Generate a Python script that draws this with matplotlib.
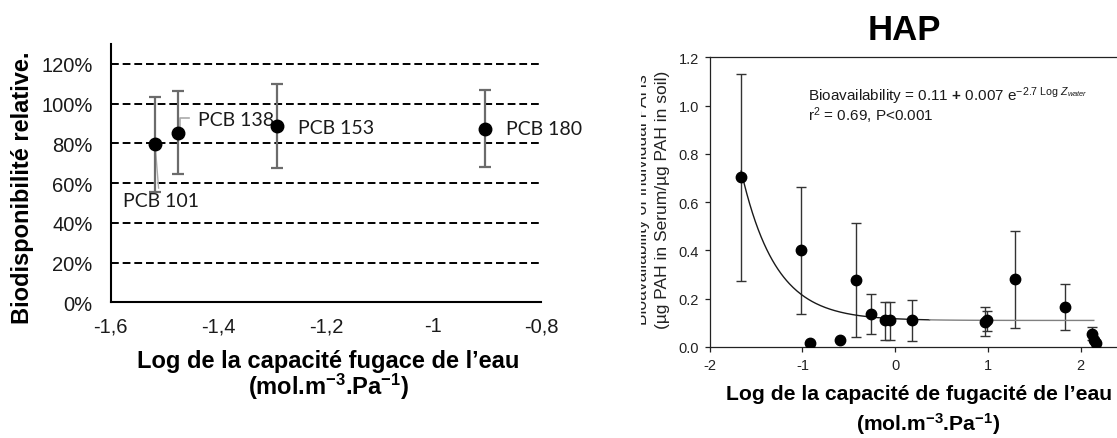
# Bioavailability vs log water fugacity capacity: PCB (left) and HAP (right)
import numpy as np
import matplotlib
matplotlib.use('Agg')
import matplotlib.pyplot as plt
from matplotlib.patches import Rectangle
from matplotlib.ticker import FuncFormatter

plt.rcParams['font.family'] = ['Liberation Sans', 'DejaVu Sans']
plt.rcParams['axes.unicode_minus'] = False
plt.rcParams['mathtext.fontset'] = 'custom'
plt.rcParams['mathtext.rm'] = 'Liberation Sans'
plt.rcParams['mathtext.it'] = 'Liberation Sans:italic'
plt.rcParams['mathtext.bf'] = 'Liberation Sans:bold'

# ---- PCB data (left panel), values in %
pcb_names = ['PCB 101', 'PCB 138', 'PCB 153', 'PCB 180']
pcb_x = [-1.517, -1.475, -1.291, -0.905]
pcb_y = [79.5, 85.4, 88.6, 87.3]
pcb_hi = [103.1, 106.3, 109.8, 106.6]
pcb_lo = [55.7, 64.5, 67.5, 68.0]

# ---- HAP data (right panel)
hap_x = [-1.66, -1.015, -0.914, -0.598, -0.425, -0.259, -0.111, -0.054,
         0.176, 0.97, 0.99, 1.296, 1.832, 2.124, 2.145, 2.16]
hap_y = [0.703, 0.403, 0.017, 0.027, 0.279, 0.138, 0.112, 0.112,
         0.112, 0.105, 0.110, 0.281, 0.167, 0.055, 0.030, 0.018]
hap_hi = [1.132, 0.662, np.nan, np.nan, 0.514, 0.219, 0.187, 0.187,
          0.196, 0.167, 0.148, 0.479, 0.263, 0.081, np.nan, np.nan]
hap_lo = [0.272, 0.138, np.nan, np.nan, 0.040, 0.052, 0.030, 0.030,
          0.025, 0.047, 0.068, 0.079, 0.070, 0.030, np.nan, np.nan]

# fitted model printed on the chart: y = a + b * exp(c * x)
fit_a, fit_b, fit_c = 0.11, 0.007, -2.7
fit_start, fit_split, fit_end = -1.66, 0.37, 2.14

W, H = 1117, 439
fig = plt.figure(figsize=(W / 100, H / 100), dpi=100)


def px(x, y):
    # pixel (from top-left) -> figure fraction
    return x / W, 1 - y / H


# ================= left panel =================
ax1 = fig.add_axes([110.7 / W, 1 - 303.3 / H, (541 - 110.7) / W, (303.3 - 45) / H])

ax1.yaxis.grid(True, linestyle=(0, (4, 2)), color='black', linewidth=1.4)
ax1.set_axisbelow(True)

yerr = [np.array(pcb_y) - np.array(pcb_lo), np.array(pcb_hi) - np.array(pcb_y)]
ax1.errorbar(pcb_x, pcb_y, yerr=yerr, fmt='o', color='black', markersize=9,
             ecolor='#6b6b6b', elinewidth=1.6, capsize=4, capthick=1.6, zorder=3)

# leader lines for labels
ax1.plot([-1.517, -1.511], [78, 57.5], color='#aaaaaa', linewidth=1, zorder=2)
ax1.plot([-1.472, -1.472, -1.455], [88.3, 92.6, 92.6], color='#aaaaaa', linewidth=1.2, zorder=2)

label_pos = [(-1.578, 51.0), (-1.437, 91.9), (-1.251, 87.8), (-0.865, 87.3)]
for name, (lx, ly) in zip(pcb_names, label_pos):
    ax1.text(lx, ly, name, ha='left', va='center', fontsize=14,
             family=['Lato', 'DejaVu Sans'], color='#1a1a1a', clip_on=False)

ax1.set_xlim(-1.6, -0.8)
ax1.set_ylim(0, 130)
ax1.set_xticks([-1.6, -1.4, -1.2, -1.0, -0.8])
ax1.set_yticks(range(0, 121, 20))
ax1.xaxis.set_major_formatter(FuncFormatter(lambda v, p: ('%g' % round(v, 2)).replace('.', ',')))
ax1.yaxis.set_major_formatter(FuncFormatter(lambda v, p: '%d%%' % v))
ax1.tick_params(axis='y', length=0, pad=13, labelsize=14.5, colors='#1a1a1a')
ax1.tick_params(axis='x', length=0, pad=10, labelsize=14.5, colors='#1a1a1a')

ax1.spines['top'].set_visible(False)
ax1.spines['right'].set_visible(False)
ax1.spines['left'].set_linewidth(1.5)
ax1.spines['bottom'].set_linewidth(1.5)

fig.text(*px(23, 188), 'Biodisponibilité relative.', rotation=90, ha='center', va='center',
         fontsize=17, fontweight='bold')
fig.text(*px(328, 361.7), 'Log de la capacité fugace de l\u2019eau', ha='center', va='center',
         fontsize=17, fontweight='bold')
fig.text(*px(329, 387.3), r'(mol.m$^{\mathbf{-3}}$.Pa$^{\mathbf{-1}}$)', ha='center', va='center',
         fontsize=17, fontweight='bold')

# ================= right panel =================
ax2 = fig.add_axes([709.6 / W, 1 - 348 / H, (W - 709.6) / W, (348 - 58.3) / H])

hx = np.array(hap_x)
hy = np.array(hap_y)
hhi = np.array(hap_hi)
hlo = np.array(hap_lo)
has_err = ~np.isnan(hhi)

ax2.errorbar(hx[has_err], hy[has_err], yerr=[hy[has_err] - hlo[has_err], hhi[has_err] - hy[has_err]],
             fmt='none', ecolor='#333333', elinewidth=1, capsize=3.6, capthick=1, zorder=2)

xs = np.linspace(fit_start, fit_split, 200)
ax2.plot(xs, fit_a + fit_b * np.exp(fit_c * xs), color='#1a1a1a', linewidth=1, zorder=2)
xs = np.linspace(fit_split, fit_end, 50)
ax2.plot(xs, fit_a + fit_b * np.exp(fit_c * xs), color='#808080', linewidth=1, zorder=2)

ax2.plot(hx, hy, 'o', color='black', markersize=7.5, zorder=3)

ax2.set_xlim(-2, 2.39)
ax2.set_ylim(0, 1.2)
ax2.set_xticks([-2, -1, 0, 1, 2])
ax2.set_yticks(np.arange(0, 1.21, 0.2))
ax2.yaxis.set_major_formatter(FuncFormatter(lambda v, p: '%.1f' % v))
ax2.tick_params(axis='both', direction='out', length=3.5, width=0.9, labelsize=10.5,
                colors='#222222')
ax2.tick_params(axis='y', pad=4)
ax2.tick_params(axis='x', pad=4.5)
ax2.spines['right'].set_visible(False)
for s in ['left', 'bottom', 'top']:
    ax2.spines[s].set_linewidth(0.9)
    ax2.spines[s].set_color('#222222')

fig.text(*px(808.3, 96), r'Bioavailability = 0.11 $\mathbf{+}$ 0.007 e$^{-2.7\ \mathrm{Log}\ Z_{water}}$',
         ha='left', va='center', fontsize=11, color='#1a1a1a')
fig.text(*px(808.3, 116), r'r$^{2}$ = 0.69, P<0.001', ha='left', va='center', fontsize=11,
         color='#1a1a1a')

fig.text(*px(904.6, 31), 'HAP', ha='center', va='center', fontsize=25, fontweight='bold')

# y label, first line partly cut off at the left edge in the original
yl1 = fig.text(*px(643, 200), 'Bioavailability of individual PAHs', rotation=90,
               ha='center', va='center', fontsize=12.5, color='#222222')
yl1.set_clip_path(Rectangle((641 / W, 0), 1, 1, transform=fig.transFigure))
fig.text(*px(662, 200), '(\u00b5g PAH in Serum/\u00b5g PAH in soil)', rotation=90,
         ha='center', va='center', fontsize=12.5, color='#222222')

fig.text(*px(919, 395), 'Log de la capacité de fugacité de l\u2019eau', ha='center', va='center',
         fontsize=15.2, fontweight='bold')
fig.text(*px(928, 424.3), r'(mol.m$^{\mathbf{-3}}$.Pa$^{\mathbf{-1}}$)', ha='center', va='center',
         fontsize=15.2, fontweight='bold')

fig.savefig('out.png', dpi=100)
plt.close(fig)
